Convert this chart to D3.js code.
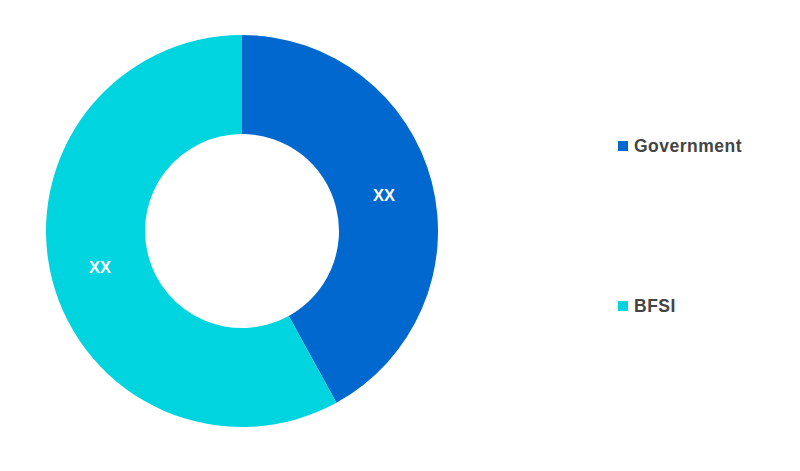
<!DOCTYPE html>
<html>
<head>
<meta charset="utf-8">
<script src="https://cdn.jsdelivr.net/npm/d3@7"></script>
<style>
  body { margin: 0; background: #fff; }
  svg { display: block; }
</style>
</head>
<body>
<svg id="chart" width="800" height="471"></svg>
<script>
// données du graphique
const categories = ["Government", "BFSI"];
const shares     = [42, 58];
const labels     = ["XX", "XX"];
const colors     = ["#0068CE", "#00D4DF"];

const svg = d3.select("#chart");
const cx = 242, cy = 231;
const outerR = 196, innerR = 97;

const pie = d3.pie().sort(null).value(d => d);
const arc = d3.arc().innerRadius(innerR).outerRadius(outerR);
const labelArc = d3.arc().innerRadius((innerR + outerR) / 2).outerRadius((innerR + outerR) / 2);

const g = svg.append("g").attr("transform", "translate(" + cx + "," + cy + ")");

const arcs = pie(shares);

g.selectAll("path")
  .data(arcs)
  .join("path")
  .attr("d", arc)
  .attr("fill", (d, i) => colors[i]);

g.selectAll("text")
  .data(arcs)
  .join("text")
  .attr("transform", d => "translate(" + labelArc.centroid(d) + ")")
  .attr("text-anchor", "middle")
  .attr("dy", "0.36em")
  .style("font-family", "'Liberation Sans', Arial, sans-serif")
  .style("font-weight", "bold")
  .style("font-size", "16.5px")
  .attr("fill", "#fff")
  .text((d, i) => labels[i]);

// légende
const legendY = d3.scalePoint().domain(categories).range([146, 306]);

const legend = svg.append("g");
const item = legend.selectAll("g")
  .data(categories)
  .join("g")
  .attr("transform", d => "translate(618," + legendY(d) + ")");

item.append("rect")
  .attr("x", 0)
  .attr("y", -5)
  .attr("width", 10)
  .attr("height", 10)
  .attr("fill", (d, i) => colors[i]);

item.append("text")
  .attr("x", 16)
  .attr("y", 6)
  .style("font-family", "'Liberation Sans', Arial, sans-serif")
  .style("font-weight", "bold")
  .style("font-size", "17.5px")
  .style("letter-spacing", "0.5px")
  .attr("fill", "#444")
  .text(d => d);
</script>
</body>
</html>
